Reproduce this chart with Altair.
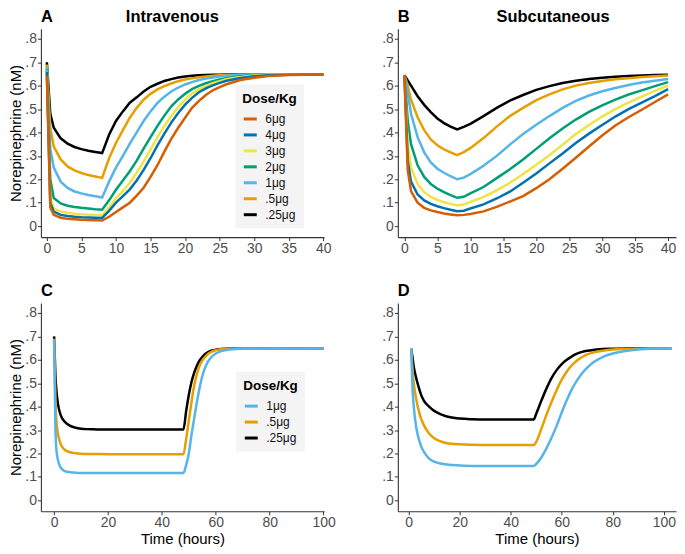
import altair as alt
import pandas as pd

FONT = "Liberation Sans"

# ---------------- data ----------------
DOSES7 = ["6μg", "4μg", "3μg", "2μg", "1μg", ".5μg", ".25μg"]
COLORS7 = ["#D55E00", "#0072B2", "#F0E442", "#009E73", "#56B4E9", "#E69F00", "#000000"]
DOSES3 = ["1μg", ".5μg", ".25μg"]
COLORS3 = ["#56B4E9", "#E69F00", "#000000"]

# Panel A: intravenous, 8 h infusion
A_time = [0, 0.5, 1, 2, 3, 4, 5, 6, 7, 8, 9, 10, 11, 12, 13, 14, 15, 16, 17, 18, 19, 20,
          21, 22, 23, 24, 25, 26, 28, 30, 32, 35, 40]
A_6 = [0.64, 0.08, 0.048, 0.036, 0.031, 0.029, 0.027, 0.026, 0.025, 0.024, 0.04, 0.06, 0.08,
       0.10, 0.13, 0.164, 0.21, 0.26, 0.318, 0.373, 0.42, 0.463, 0.505, 0.535, 0.56, 0.58,
       0.594, 0.606, 0.624, 0.634, 0.641, 0.645, 0.648]
A_4 = [0.66, 0.10, 0.062, 0.048, 0.043, 0.040, 0.038, 0.037, 0.036, 0.035, 0.065, 0.10, 0.128,
       0.157, 0.195, 0.24, 0.29, 0.345, 0.395, 0.442, 0.483, 0.519, 0.548, 0.572, 0.588, 0.601,
       0.612, 0.621, 0.633, 0.640, 0.644, 0.647, 0.648]
A_3 = [0.665, 0.12, 0.075, 0.062, 0.057, 0.053, 0.051, 0.049, 0.047, 0.046, 0.08, 0.12, 0.15,
       0.185, 0.228, 0.275, 0.327, 0.38, 0.428, 0.47, 0.508, 0.54, 0.566, 0.584, 0.598, 0.610,
       0.619, 0.627, 0.637, 0.643, 0.646, 0.648, 0.648]
A_2 = [0.67, 0.20, 0.12, 0.097, 0.087, 0.082, 0.078, 0.075, 0.072, 0.070, 0.11, 0.155, 0.195,
       0.234, 0.28, 0.331, 0.38, 0.428, 0.472, 0.512, 0.541, 0.565, 0.585, 0.599, 0.610, 0.619,
       0.626, 0.632, 0.640, 0.644, 0.646, 0.648, 0.648]
A_1 = [0.68, 0.33, 0.25, 0.19, 0.163, 0.148, 0.140, 0.133, 0.128, 0.122, 0.19, 0.25, 0.30,
       0.352, 0.40, 0.449, 0.49, 0.526, 0.553, 0.575, 0.592, 0.605, 0.615, 0.624, 0.630, 0.635,
       0.639, 0.642, 0.645, 0.647, 0.648, 0.648, 0.648]
A_05 = [0.69, 0.42, 0.34, 0.285, 0.255, 0.238, 0.227, 0.218, 0.212, 0.206, 0.29, 0.355, 0.41,
        0.463, 0.505, 0.54, 0.565, 0.584, 0.598, 0.609, 0.619, 0.626, 0.631, 0.636, 0.639, 0.642,
        0.644, 0.645, 0.647, 0.648, 0.648, 0.648, 0.648]
A_025 = [0.70, 0.48, 0.42, 0.375, 0.352, 0.338, 0.329, 0.322, 0.317, 0.312, 0.39, 0.449, 0.49,
         0.527, 0.55, 0.575, 0.595, 0.608, 0.620, 0.628, 0.635, 0.639, 0.642, 0.644, 0.645, 0.646,
         0.647, 0.648, 0.648, 0.648, 0.648, 0.648, 0.648]

# Panel B: subcutaneous
B_time = [0, 0.5, 1, 2, 3, 4, 5, 6, 7, 8, 9, 10, 12, 14, 16, 18, 20, 22, 24, 26, 28, 30, 32,
          34, 36, 38, 40]
B_6 = [0.645, 0.24, 0.15, 0.10, 0.078, 0.067, 0.06, 0.054, 0.05, 0.046, 0.048, 0.052, 0.063,
       0.082, 0.105, 0.128, 0.162, 0.2, 0.245, 0.292, 0.34, 0.387, 0.43, 0.465, 0.497, 0.53, 0.563]
B_4 = [0.645, 0.28, 0.19, 0.135, 0.11, 0.095, 0.085, 0.077, 0.07, 0.064, 0.066, 0.075, 0.093,
       0.118, 0.147, 0.185, 0.225, 0.268, 0.31, 0.355, 0.395, 0.432, 0.468, 0.50, 0.527, 0.555, 0.585]
B_3 = [0.645, 0.35, 0.25, 0.18, 0.145, 0.125, 0.112, 0.102, 0.095, 0.088, 0.092, 0.103, 0.125,
       0.153, 0.185, 0.222, 0.262, 0.303, 0.348, 0.393, 0.432, 0.468, 0.50, 0.527, 0.553, 0.578, 0.600]
B_2 = [0.645, 0.45, 0.35, 0.26, 0.21, 0.18, 0.16, 0.145, 0.132, 0.121, 0.125, 0.14, 0.167,
       0.205, 0.243, 0.285, 0.33, 0.375, 0.417, 0.455, 0.488, 0.516, 0.54, 0.562, 0.58, 0.598, 0.615]
B_1 = [0.645, 0.57, 0.48, 0.38, 0.315, 0.272, 0.245, 0.228, 0.213, 0.200, 0.207, 0.222, 0.258,
       0.30, 0.348, 0.393, 0.433, 0.47, 0.505, 0.535, 0.558, 0.576, 0.59, 0.603, 0.613, 0.621, 0.628]
B_05 = [0.645, 0.60, 0.54, 0.465, 0.41, 0.37, 0.345, 0.328, 0.315, 0.303, 0.316, 0.333, 0.376,
        0.425, 0.47, 0.505, 0.538, 0.563, 0.584, 0.60, 0.611, 0.62, 0.627, 0.632, 0.637, 0.640, 0.643]
B_025 = [0.645, 0.622, 0.60, 0.555, 0.518, 0.487, 0.46, 0.44, 0.425, 0.413, 0.424, 0.437, 0.47,
         0.505, 0.536, 0.56, 0.582, 0.598, 0.611, 0.621, 0.628, 0.634, 0.638, 0.641, 0.643, 0.645, 0.646]

# Panel C: intravenous, 48 h infusion
C_time = [0, 0.5, 1, 2, 3, 4, 6, 8, 10, 12, 15, 20, 48, 49, 50, 51, 52, 53, 54, 55, 56, 57,
          58, 60, 62, 65, 70, 100]
C_1 = [0.685, 0.30, 0.20, 0.15, 0.132, 0.125, 0.12, 0.118, 0.117, 0.117, 0.117, 0.117, 0.117,
       0.15, 0.20, 0.28, 0.35, 0.42, 0.48, 0.53, 0.565, 0.59, 0.607, 0.627, 0.637, 0.644, 0.647, 0.648]
C_05 = [0.69, 0.42, 0.32, 0.255, 0.228, 0.215, 0.205, 0.201, 0.199, 0.198, 0.198, 0.197, 0.197,
        0.26, 0.34, 0.42, 0.49, 0.54, 0.575, 0.597, 0.612, 0.624, 0.632, 0.641, 0.645, 0.647, 0.648, 0.648]
C_025 = [0.70, 0.53, 0.45, 0.38, 0.35, 0.335, 0.318, 0.31, 0.306, 0.304, 0.303, 0.302, 0.302,
         0.38, 0.45, 0.505, 0.545, 0.575, 0.597, 0.612, 0.624, 0.632, 0.638, 0.643, 0.646, 0.648, 0.648, 0.648]

# Panel D: subcutaneous, 48 h
D_time = [1, 1.5, 2, 3, 4, 5, 6, 8, 10, 12, 15, 20, 25, 30, 49, 50, 52, 54, 56, 58, 60, 62,
          64, 66, 68, 70, 73, 76, 80, 85, 90, 95, 103]
D_1 = [0.648, 0.48, 0.40, 0.31, 0.26, 0.228, 0.207, 0.178, 0.165, 0.158, 0.153, 0.149, 0.147,
       0.146, 0.146, 0.155, 0.183, 0.222, 0.267, 0.318, 0.375, 0.428, 0.475, 0.512, 0.543, 0.567,
       0.594, 0.612, 0.627, 0.638, 0.644, 0.647, 0.648]
D_05 = [0.648, 0.56, 0.50, 0.43, 0.38, 0.345, 0.32, 0.285, 0.265, 0.254, 0.244, 0.239, 0.237,
        0.236, 0.236, 0.25, 0.305, 0.365, 0.42, 0.47, 0.515, 0.55, 0.577, 0.597, 0.612, 0.623,
        0.633, 0.639, 0.644, 0.646, 0.647, 0.648, 0.648]
D_025 = [0.648, 0.61, 0.57, 0.52, 0.48, 0.447, 0.425, 0.40, 0.382, 0.37, 0.358, 0.349, 0.346,
         0.345, 0.345, 0.37, 0.425, 0.477, 0.522, 0.556, 0.582, 0.60, 0.615, 0.626, 0.634, 0.639,
         0.643, 0.646, 0.647, 0.648, 0.648, 0.648, 0.648]

Y_TICKS = [0, 0.1, 0.2, 0.3, 0.4, 0.5, 0.6, 0.7, 0.8]
X_TICKS_40 = [0, 5, 10, 15, 20, 25, 30, 35, 40]
X_TICKS_100 = [0, 20, 40, 60, 80, 100]


def long_frame(times, series, doses):
    rows = []
    # lowest dose first so the highest dose is drawn on top
    for d in reversed(doses):
        for t, v in zip(times, series[d]):
            rows.append({"t": t, "v": v, "dose": d})
    return pd.DataFrame(rows)


dfA = long_frame(A_time, dict(zip(DOSES7, [A_6, A_4, A_3, A_2, A_1, A_05, A_025])), DOSES7)
dfB = long_frame(B_time, dict(zip(DOSES7, [B_6, B_4, B_3, B_2, B_1, B_05, B_025])), DOSES7)
dfC = long_frame(C_time, dict(zip(DOSES3, [C_1, C_05, C_025])), DOSES3)
dfD = long_frame(D_time, dict(zip(DOSES3, [D_1, D_05, D_025])), DOSES3)

NB = "\u00a0"
H = 209


def legend(lx, ly):
    return alt.Legend(
        title="Dose/Kg", orient="none", legendX=lx, legendY=ly,
        fillColor="#F4F4F4", padding=7, symbolType="stroke", symbolStrokeWidth=3,
        symbolSize=169, labelFontSize=12, titleFontSize=13.5, titleFontWeight="bold",
        rowPadding=2, labelOffset=7, titlePadding=6, labelColor="#111111",
        titleColor="black", labelFont=FONT, titleFont=FONT,
    )


def panel(df, doses, colors, title, xdom, xticks, width, ytitle, xtitle, leg, interp):
    y_axis = alt.Axis(values=Y_TICKS,
                      labelExpr="datum.value == 0 ? '0' : replace(format(datum.value, '.1f'), '0.', '.')",
                      title=ytitle)
    x_axis = alt.Axis(values=xticks, title=xtitle, format="d")
    return alt.Chart(df).mark_line(strokeWidth=2.5, interpolate=interp).encode(
        x=alt.X("t:Q", scale=alt.Scale(domain=xdom, nice=False, zero=False), axis=x_axis),
        y=alt.Y("v:Q", scale=alt.Scale(domain=[-0.047, 0.843], nice=False, zero=False), axis=y_axis),
        color=alt.Color("dose:N", scale=alt.Scale(domain=doses, range=colors), legend=leg),
    ).properties(
        width=width, height=H,
        title=alt.TitleParams(text=title, anchor="start", frame="group", fontSize=16.5,
                              fontWeight="bold", font=FONT, color="black", offset=3),
    )


pA = panel(dfA, DOSES7, COLORS7, "A" + NB * 16 + "Intravenous", [-0.86, 40.1], X_TICKS_40, 284,
           "Norepinephrine (nM)", None, legend(195, 56), "linear")
pB = panel(dfB, DOSES7, COLORS7, "B" + NB * 19 + "Subcutaneous", [-1.0, 41.2], X_TICKS_40, 279,
           None, None, None, "linear")
pC = panel(dfC, DOSES3, COLORS3, "C", [-4.9, 100.2], X_TICKS_100, 284,
           "Norepinephrine (nM)", "Time (hours)", legend(196, 69), "monotone")
pD = panel(dfD, DOSES3, COLORS3, "D", [-4.25, 104.8], X_TICKS_100, 279,
           None, "Time (hours)", None, "monotone")

chart = alt.concat(pA, pB, pC, pD, columns=2, spacing={"row": 27, "column": 45}).resolve_scale(
    color="independent"
).properties(
    padding=0, background="white"
).configure_axis(
    labelFont=FONT, titleFont=FONT, labelColor="#4D4D4D", titleColor="black",
    labelFontSize=14, titleFontSize=15, titleFontWeight="normal",
    domainColor="#333333", tickColor="#333333", tickSize=3.5, domainWidth=1.1,
    grid=False, labelFlush=False, labelPadding=1,
).configure_axisY(titlePadding=1).configure_axisX(titlePadding=2).configure_view(strokeWidth=0)

chart.save("out.html", embed_options={"renderer": "svg", "actions": False})
